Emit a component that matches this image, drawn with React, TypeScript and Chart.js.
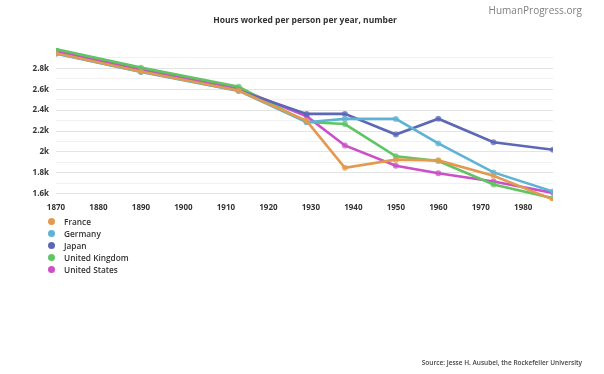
import React, { useEffect, useRef } from "react";
import { Chart, registerables } from "chart.js";

Chart.register(...registerables);

const years = [1870, 1890, 1913, 1929, 1938, 1950, 1960, 1973, 1987];
const seriesNames = ["France", "Germany", "Japan", "United Kingdom", "United States"];
const france = [2945, 2770, 2588, 2297, 1848, 1926, 1919, 1771, 1543];
const germany = [2941, 2765, 2584, 2284, 2316, 2316, 2081, 1804, 1620];
const japan = [2945, 2770, 2588, 2364, 2364, 2166, 2318, 2093, 2020];
const unitedKingdom = [2984, 2807, 2624, 2286, 2267, 1958, 1913, 1688, 1557];
const unitedStates = [2964, 2789, 2605, 2342, 2062, 1867, 1795, 1717, 1608];
const seriesColors = ["#e39a4f", "#5db3d5", "#5c68b6", "#5fc563", "#cc4fc9"];
const xTickValues = [1870, 1880, 1890, 1900, 1910, 1920, 1930, 1940, 1950, 1960, 1970, 1980];
const yGridValues = [1600, 1700, 1800, 1900, 2000, 2100, 2200, 2300, 2400, 2500, 2600, 2700, 2800, 2900];
const yLabelStep = 200;

const seriesValues = [france, germany, japan, unitedKingdom, unitedStates];

const FONT = "'Open Sans', 'DejaVu Sans', sans-serif";

export default function App() {
  const canvasRef = useRef<HTMLCanvasElement | null>(null);

  useEffect(() => {
    const canvas = canvasRef.current;
    if (!canvas) return;
    const chart = new Chart(canvas, {
      type: "line",
      data: {
        datasets: seriesNames.map((name, i) => ({
          label: name,
          data: years.map((y, j) => ({ x: y, y: seriesValues[i][j] })),
          borderColor: seriesColors[i],
          backgroundColor: seriesColors[i],
          borderWidth: 2.6,
          pointRadius: 3,
          pointBorderWidth: 0,
          pointBackgroundColor: seriesColors[i] + "bb",
          tension: 0,
        })),
      },
      options: {
        responsive: false,
        animation: false,
        layout: { padding: { left: 0, right: 51, top: 48, bottom: 153 } },
        plugins: {
          legend: { display: false },
          title: { display: false },
          tooltip: { enabled: false },
        },
        scales: {
          x: {
            type: "linear",
            min: 1870,
            max: 1987,
            border: { display: false },
            grid: { display: false, drawTicks: false },
            afterBuildTicks: (scale: any) => {
              scale.ticks = xTickValues.map((v) => ({ value: v }));
            },
            afterFit: (scale: any) => {
              scale.height = 20;
            },
            ticks: {
              autoSkip: false,
              maxRotation: 0,
              padding: 2,
              color: "#333",
              font: { family: FONT, size: 8, weight: "bold" },
              callback: (v: any) => String(v),
            },
          },
          y: {
            type: "linear",
            min: 1530,
            max: 2995,
            border: { display: false },
            grid: {
              drawTicks: false,
              color: (ctx: any) =>
                ctx.tick && ctx.tick.value % yLabelStep === 0 ? "#e4e4e4" : "#f1f1f1",
              lineWidth: 1,
            },
            afterBuildTicks: (scale: any) => {
              scale.ticks = yGridValues.map((v) => ({ value: v }));
            },
            afterFit: (scale: any) => {
              scale.width = 56;
            },
            ticks: {
              autoSkip: false,
              padding: 7,
              color: "#333",
              font: { family: FONT, size: 8, weight: "bold" },
              callback: (v: any) => {
                const n = Number(v);
                if (n % yLabelStep !== 0) return "";
                return String(n / 1000) + "k";
              },
            },
          },
        },
      },
    });
    return () => chart.destroy();
  }, []);

  return (
    <div
      style={{
        position: "fixed",
        left: 0,
        top: 0,
        width: 604,
        height: 374,
        background: "#fff",
        fontFamily: FONT,
      }}
    >
      <canvas ref={canvasRef} width={604} height={374} style={{ position: "absolute", left: 0, top: 0 }} />
      <div
        style={{
          position: "absolute",
          right: 22,
          top: 3,
          fontSize: 10,
          color: "#808080",
        }}
      >
        HumanProgress.org
      </div>
      <div
        style={{
          position: "absolute",
          left: 0,
          width: 610,
          top: 14,
          textAlign: "center",
          fontSize: 8.5,
          fontWeight: 700,
          color: "#333",
        }}
      >
        Hours worked per person per year, number
      </div>
      <div style={{ position: "absolute", left: 48, top: 215 }}>
        {seriesNames.map((name, i) => (
          <div
            key={name}
            style={{ display: "flex", alignItems: "center", height: 12.2, fontSize: 8.3, fontWeight: 600, color: "#333" }}
          >
            <span
              style={{
                display: "inline-block",
                width: 7,
                height: 7,
                borderRadius: "50%",
                background: seriesColors[i],
                marginRight: 9,
              }}
            />
            {name}
          </div>
        ))}
      </div>
      <div
        style={{
          position: "absolute",
          right: 22,
          top: 358,
          fontSize: 6.5,
          fontWeight: 600,
          color: "#444",
        }}
      >
        Source: Jesse H. Ausubel, the Rockefeller University
      </div>
    </div>
  );
}
